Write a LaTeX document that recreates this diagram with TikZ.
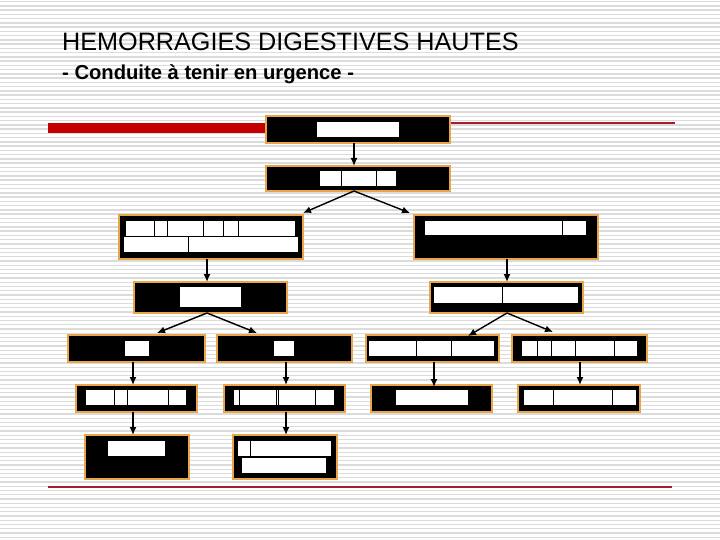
\documentclass[tikz,border=0pt]{standalone}
\usepackage{fontspec}
\setmainfont{Liberation Sans}
\usetikzlibrary{arrows.meta,calc}
\definecolor{stripe}{HTML}{DCDCDC}
\definecolor{boxedge}{HTML}{E8A64A}
\definecolor{redbar}{HTML}{C40000}
\definecolor{redline}{HTML}{A81C2C}
\tikzset{
  box/.style={fill=black,draw=boxedge,line width=2.2pt,inner sep=0pt,outer sep=0pt},
  arr/.style={line width=1.4pt,-{Latex[length=8pt,width=7pt]}},
  blank/.style={fill=white},
  sep/.style={black,line width=0.9pt}
}
\begin{document}
\begin{tikzpicture}[x=1pt,y=-1pt]
\useasboundingbox (0,0) rectangle (720,540);
\fill[white] (0,0) rectangle (720,540);
\foreach \k in {0,...,127} {
  \fill[stripe] (0,{\k*4.25+1}) rectangle (720,{\k*4.25+2.3});
}
% title
\node[anchor=base west,inner sep=0pt,font=\fontsize{25.2}{29}\selectfont] (title) at (62,51) {HEMORRAGIES DIGESTIVES HAUTES};
\node[anchor=base west,inner sep=0pt,font=\fontsize{20.2}{23}\selectfont\bfseries] (subtitle) at (62,80) {- Conduite à tenir en urgence -};
% red rules
\fill[redbar] (48,123) rectangle (267,133);
\draw[redline,line width=1.1pt] (450,123) -- (675,123);
\draw[redline,line width=1.1pt] (48,487) -- (672,487);
% boxes
\node[box,minimum width=184,minimum height=27] (b1) at (358,129.5) {};
\node[box,minimum width=184,minimum height=25] (b2) at (358,178.5) {};
\node[box,minimum width=184,minimum height=44] (b3) at (211,237) {};
\node[box,minimum width=184,minimum height=44] (b4) at (506,237) {};
\node[box,minimum width=153,minimum height=31] (b5) at (210.5,297.5) {};
\node[box,minimum width=153,minimum height=31] (b6) at (506.5,297.5) {};
\node[box,minimum width=137,minimum height=27] (b7) at (136.5,348.5) {};
\node[box,minimum width=135,minimum height=27] (b8) at (284.5,348.5) {};
\node[box,minimum width=133,minimum height=27] (b9) at (432.5,348.5) {};
\node[box,minimum width=135,minimum height=27] (b10) at (579.5,348.5) {};
\node[box,minimum width=121,minimum height=27] (b11) at (136.5,398.5) {};
\node[box,minimum width=121,minimum height=27] (b12) at (284.5,398.5) {};
\node[box,minimum width=121,minimum height=27] (b13) at (431.5,398.5) {};
\node[box,minimum width=122,minimum height=27] (b14) at (579,398.5) {};
\node[box,minimum width=104,minimum height=44] (b15) at (137,457) {};
\node[box,minimum width=104,minimum height=44] (b16) at (285,457) {};
% white blocks
\fill[blank] (317,122) rectangle (399,137);
\fill[blank] (320,171) rectangle (396,186);
\draw[sep] (341,171) -- (341,186) (376,171) -- (376,186);
\fill[blank] (126,221) rectangle (295,236);
\draw[sep] (154,221) -- (154,236) (167,221) -- (167,236) (203,221) -- (203,236)
           (223,221) -- (223,236) (238,221) -- (238,236);
\fill[blank] (124,237) rectangle (298,252);
\draw[sep] (188,237) -- (188,252);
\fill[blank] (425,221) rectangle (586,235);
\draw[sep] (562,221) -- (562,235);
\fill[blank] (180,287) rectangle (241,307);
\fill[blank] (434,287) rectangle (578,303);
\draw[sep] (502,287) -- (502,303);
\fill[blank] (125,341) rectangle (149,356);
\fill[blank] (274,341) rectangle (294,356);
\fill[blank] (369,341) rectangle (494,356);
\draw[sep] (416,341) -- (416,356) (451,341) -- (451,356);
\fill[blank] (522,341) rectangle (637,356);
\draw[sep] (537,341) -- (537,356) (551,341) -- (551,356) (575,341) -- (575,356) (614,341) -- (614,356);
\fill[blank] (86,390) rectangle (186,405);
\draw[sep] (114,390) -- (114,405) (127,390) -- (127,405) (168,390) -- (168,405);
\fill[blank] (234,390) rectangle (334,405);
\draw[sep] (239,390) -- (239,405) (276,390) -- (276,405) (278,390) -- (278,405) (315,390) -- (315,405);
\fill[blank] (396,390) rectangle (468,405);
\fill[blank] (524,390) rectangle (636,405);
\draw[sep] (553,390) -- (553,405) (612,390) -- (612,405);
\fill[blank] (108,441) rectangle (165,456);
\fill[blank] (238,441) rectangle (331,456);
\draw[sep] (250,441) -- (250,456);
\fill[blank] (242,458) rectangle (326,473);
% connectors
\draw[arr] ([xshift=-4pt]b1.south) -- ([xshift=-4pt]b2.north);
\draw[arr] ([xshift=-4pt]b2.south) -- ([yshift=2pt]b3.north east);
\draw[arr] ([xshift=-4pt]b2.south) -- ([xshift=-4pt,yshift=2pt]b4.north west);
\draw[arr] ([xshift=-4pt]b3.south) -- ([xshift=-3.5pt]b5.north);
\draw[arr] ([xshift=1pt]b4.south) -- ([xshift=0.5pt]b6.north);
\draw[arr] ([xshift=-3.5pt]b5.south) -- ([xshift=20.5pt,yshift=2pt]b7.north);
\draw[arr] ([xshift=-3.5pt]b5.south) -- ([xshift=-27.5pt,yshift=2pt]b8.north);
\draw[arr] ([xshift=0.5pt]b6.south) -- ([xshift=35.5pt,yshift=-1pt]b9.north);
\draw[arr] ([xshift=0.5pt]b6.south) -- ([xshift=-26.5pt,yshift=3pt]b10.north);
\draw[arr] ([xshift=-3.5pt]b7.south) -- ([xshift=-3.5pt]b11.north);
\draw[arr] ([xshift=1.5pt]b8.south) -- ([xshift=1.5pt]b12.north);
\draw[arr] ([xshift=1.5pt]b9.south) -- ([xshift=2.5pt,yshift=-2pt]b13.north);
\draw[arr] ([xshift=0.5pt]b10.south) -- ([xshift=1pt]b14.north);
\draw[arr] ([xshift=-3.5pt]b11.south) -- ([xshift=-4pt]b15.north);
\draw[arr] ([xshift=1.5pt]b12.south) -- ([xshift=1pt]b16.north);
\end{tikzpicture}
\end{document}
